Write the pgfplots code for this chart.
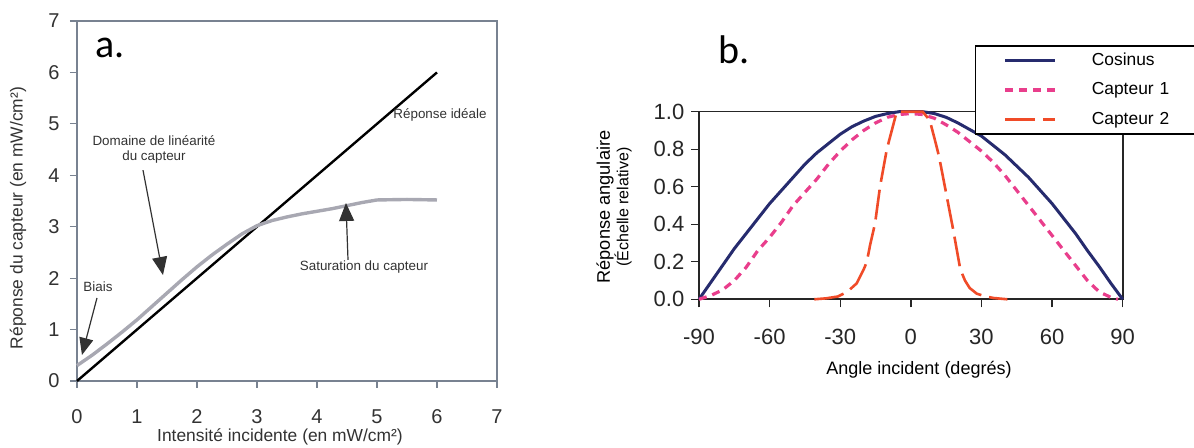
\documentclass[border=0pt]{standalone}
\usepackage{fontspec}
\setmainfont{Liberation Sans}
\newfontfamily\calfont{Carlito}
\usepackage{pgfplots}
\pgfplotsset{compat=1.18}
\usetikzlibrary{arrows.meta}
\definecolor{boxgray}{RGB}{120,130,145}
\definecolor{txtgray}{RGB}{50,50,50}
\definecolor{sensgray}{RGB}{168,168,178}
\definecolor{cosnavy}{RGB}{38,43,110}
\definecolor{cappink}{RGB}{233,62,140}
\definecolor{caporange}{RGB}{240,75,40}
\begin{document}
\begin{tikzpicture}[x=1pt,y=1pt]
\useasboundingbox (0,0) rectangle (597,224);
% ---------------- panel a ----------------
\begin{axis}[
  at={(38.5pt,33.5pt)}, anchor=south west,
  scale only axis, width=210pt, height=180pt,
  xmin=0, xmax=7, ymin=0, ymax=7,
  xtick={0,1,2,3,4,5,6,7}, xticklabels={0,1,2,3,4,5,6,7},
  ytick={0,1,2,3,4,5,6,7}, yticklabels={0,1,2,3,4,5,6,7},
  xtick pos=bottom, ytick pos=left,
  tick align=outside, major tick length=3.5pt,
  tick style={draw=boxgray, line width=0.6pt},
  axis line style={draw=boxgray, line width=0.6pt},
  xticklabel style={font=\fontsize{10}{12}\selectfont, text=txtgray, anchor=center, yshift=-14.5pt},
  yticklabel style={font=\fontsize{10}{12}\selectfont, text=txtgray, anchor=center, xshift=-8pt},
  clip=false,
]
\addplot[black, line width=1.2pt] coordinates {(0,0) (6,6)};
\addplot[sensgray, line width=1.7pt] coordinates {
(0,0.30) (0.25,0.50) (0.5,0.72) (0.75,0.95) (1,1.19) (1.25,1.45) (1.5,1.71)
(1.75,1.97) (2,2.22) (2.25,2.45) (2.5,2.66) (2.75,2.86) (3,3.02) (3.25,3.12)
(3.5,3.19) (3.75,3.25) (4,3.30) (4.25,3.35) (4.5,3.41) (4.75,3.47) (5,3.52)
(5.5,3.53) (6,3.52)};
\draw[txtgray, line width=0.6pt, -{Triangle[length=8.5pt,width=7pt]}] (axis cs:0.333,1.614) -- (axis cs:0.083,0.506);
\draw[txtgray, line width=0.6pt, -{Triangle[length=9pt,width=7.5pt]}] (axis cs:1.1,4.1) -- (axis cs:1.433,2.061);
\draw[txtgray, line width=0.6pt, -{Triangle[length=9pt,width=7.5pt]}] (axis cs:4.517,2.353) -- (axis cs:4.483,3.461);
\node[font=\fontsize{6.7}{8}\selectfont, text=txtgray] at (axis cs:0.35,1.83) {Biais};
\node[font=\fontsize{6.7}{7.8}\selectfont, text=txtgray, align=center] at (axis cs:1.283,4.50) {Domaine de linéarité\\du capteur};
\node[font=\fontsize{6.7}{8}\selectfont, text=txtgray] at (axis cs:6.05,5.17) {Réponse idéale};
\node[font=\fontsize{6.7}{8}\selectfont, text=txtgray] at (axis cs:4.783,2.217) {Saturation du capteur};
\end{axis}
\node[font=\fontsize{8.7}{10}\selectfont, text=txtgray] at (140,5.5) {Intensité incidente (en mW/cm²)};
\node[font=\fontsize{8.7}{10}\selectfont, text=txtgray, rotate=90] at (9,115) {Réponse du capteur (en mW/cm²)};
\node[font=\calfont\fontsize{20}{24}\selectfont, anchor=base west, inner sep=0pt] at (47.5,195) {a.};
% ---------------- panel b ----------------
\begin{axis}[
  at={(349.5pt,74.35pt)}, anchor=south west,
  scale only axis, width=211.85pt, height=93.8pt,
  xmin=-90, xmax=90, ymin=0, ymax=1,
  xtick={-90,-60,-30,0,30,60,90}, xticklabels={-90,-60,-30,0,30,60,90},
  ytick={0,0.2,0.4,0.6,0.8,1}, yticklabels={0.0,0.2,0.4,0.6,0.8,1.0},
  xtick pos=bottom, ytick pos=left,
  tick align=outside, major tick length=4pt,
  tick style={draw=black!85, line width=0.7pt},
  axis line style={draw=black!85, line width=0.8pt},
  xticklabel style={font=\fontsize{11}{13}\selectfont, text=black!85, anchor=center, yshift=-15pt},
  yticklabel style={font=\fontsize{11}{13}\selectfont, text=black!85, anchor=center, xshift=-11pt},
  clip=false,
  legend style={at={(rel axis cs:0.651,1.356)}, anchor=north west, draw=black, line width=0.8pt, fill=white,
    font=\fontsize{8.7}{10}\selectfont, inner xsep=14pt, inner ysep=0pt, row sep=0pt,
    nodes={inner sep=0pt, minimum height=14.75pt, text width=150pt},
    /tikz/every odd column/.append style={column sep=17.5pt}},
  legend cell align=left,
  legend image code/.code={\draw[#1] (0pt,0pt) -- (25pt,0pt);},
]
\addplot[cosnavy, line width=1.5pt] coordinates {
(-90,0.00) (-85,0.09) (-80,0.18) (-75,0.27) (-70,0.35) (-65,0.43) (-60,0.51)
(-55,0.58) (-50,0.65) (-45,0.72) (-40,0.78) (-35,0.83) (-30,0.88) (-25,0.92)
(-20,0.95) (-15,0.975) (-10,0.99) (-5,1.0) (0,1.0) (5,1.0) (10,0.99) (15,0.97)
(20,0.94) (25,0.905) (30,0.87) (35,0.82) (40,0.77) (45,0.71) (50,0.65) (55,0.58)
(60,0.51) (65,0.43) (70,0.35) (75,0.26) (80,0.175) (85,0.085) (90,0.00)};
\addlegendentry{Cosinus}
\addplot[cappink, line width=1.6pt, dash pattern=on 4pt off 3pt] coordinates {
(-90,0.00) (-85,0.02) (-80,0.05) (-75,0.10) (-70,0.17) (-65,0.26) (-60,0.33)
(-55,0.41) (-50,0.50) (-45,0.57) (-40,0.64) (-35,0.72) (-30,0.79) (-25,0.85)
(-20,0.90) (-15,0.94) (-10,0.97) (-5,0.985) (0,0.99) (5,0.985) (10,0.965)
(15,0.93) (20,0.89) (25,0.84) (30,0.79) (35,0.73) (40,0.66) (45,0.58) (50,0.50)
(55,0.42) (60,0.34) (65,0.26) (70,0.18) (75,0.10) (80,0.04) (85,0.01) (88,0.00)};
\addlegendentry{Capteur 1}
\addplot[caporange, line width=1.3pt, dash pattern=on 15pt off 4pt] coordinates {
(-41,0.0) (-36,0.005) (-31,0.015) (-27,0.04) (-23,0.085) (-20,0.16) (-18.7,0.2)
(-17.3,0.29) (-15.2,0.405) (-13.1,0.60) (-10.2,0.80) (-6,1.0) (0,1.0) (5,1.0)
(8,0.955) (10,0.86) (12,0.76) (15,0.565) (18,0.37) (21,0.16) (23,0.10) (25,0.06)
(28,0.03) (31,0.018) (35,0.007) (41,0.0)};
\addlegendentry{Capteur 2}
\end{axis}
\node[font=\fontsize{9}{11}\selectfont] at (459.5,39) {Angle incident (degrés)};
\node[font=\fontsize{9.1}{11}\selectfont, rotate=90] at (302.5,120.5) {Réponse angulaire};
\node[font=\fontsize{8}{10}\selectfont, rotate=90] at (311.5,120.5) {(Échelle relative)};
\node[font=\calfont\fontsize{20}{24}\selectfont, anchor=base west, inner sep=0pt] at (359,192.35) {b.};
\end{tikzpicture}
\end{document}
